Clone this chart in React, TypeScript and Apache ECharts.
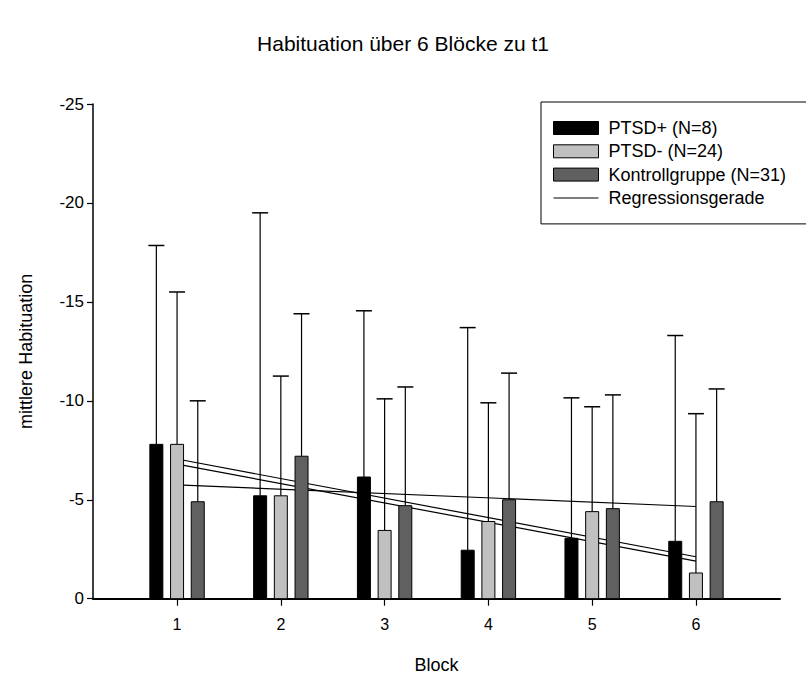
import React, { useEffect, useRef } from "react";
import * as echarts from "echarts";

const blocks = [1, 2, 3, 4, 5, 6];
const ptsdPlusMean = [-7.8, -5.2, -6.15, -2.45, -3.05, -2.9];
const ptsdPlusErr = [-17.85, -19.5, -14.55, -13.7, -10.15, -13.3];
const ptsdMinusMean = [-7.8, -5.2, -3.45, -3.9, -4.4, -1.3];
const ptsdMinusErr = [-15.5, -11.25, -10.1, -9.9, -9.7, -9.35];
const kontrollMean = [-4.9, -7.2, -4.7, -5.0, -4.55, -4.9];
const kontrollErr = [-10.0, -14.4, -10.7, -11.4, -10.3, -10.6];

const regX = [1, 6];
const regPlus = [-7.06, -2.12];
const regMinus = [-6.8, -1.9];
const regKontroll = [-5.75, -4.66];

const yTicks = [-25, -20, -15, -10, -5, 0];

const FONT = "'Liberation Sans', Arial, Helvetica, sans-serif";

function makeBarSeries(name: string, means: number[], errs: number[], color: string, offset: number) {
  const data = blocks.map((b, i) => [b, means[i], errs[i]]);
  return {
    name,
    type: "custom",
    z: 5,
    itemStyle: { color },
    encode: { x: 0, y: 1 },
    data,
    renderItem: (params: any, api: any) => {
      const x = api.value(0);
      const v = api.value(1);
      const e = api.value(2);
      const base = api.coord([x, 0]);
      const top = api.coord([x, v]);
      const et = api.coord([x, e]);
      const cx = base[0] + offset;
      return {
        type: "group",
        children: [
          {
            type: "line",
            shape: { x1: cx, y1: top[1], x2: cx, y2: et[1] },
            style: { stroke: "#000", lineWidth: 1.2 },
          },
          {
            type: "line",
            shape: { x1: cx - 8, y1: et[1], x2: cx + 8, y2: et[1] },
            style: { stroke: "#000", lineWidth: 1.5 },
          },
          {
            type: "rect",
            shape: { x: cx - 6.5, y: top[1], width: 13, height: base[1] - top[1] },
            style: { fill: color, stroke: "#000", lineWidth: 1 },
          },
        ],
      };
    },
  };
}

function regSeries(id: string, vals: number[]) {
  return {
    name: id,
    type: "line",
    z: 1,
    symbol: "none",
    silent: true,
    lineStyle: { color: "#000", width: 1.2 },
    itemStyle: { color: "#000" },
    data: regX.map((x, i) => [x, vals[i]]),
  };
}

export default function App() {
  const ref = useRef<HTMLDivElement>(null);
  useEffect(() => {
    if (!ref.current) return;
    const chart = echarts.init(ref.current, undefined, { renderer: "svg" });
    chart.setOption({
      animation: false,
      backgroundColor: "#fff",
      textStyle: { fontFamily: FONT },
      title: {
        text: "Habituation über 6 Blöcke zu t1",
        left: "center",
        top: 33,
        padding: 0,
        textStyle: { fontFamily: FONT, fontSize: 21, fontWeight: "normal", color: "#000" },
      },
      legend: {
        orient: "vertical",
        left: 541,
        top: 102,
        padding: [17, 24, 17, 12],
        borderColor: "#000",
        borderWidth: 1,
        itemWidth: 45,
        itemHeight: 13,
        itemGap: 5.3,
        textStyle: { fontFamily: FONT, fontSize: 18, lineHeight: 18, color: "#000", padding: [0, 0, 0, 5] },
        data: [
          { name: "PTSD+ (N=8)", icon: "rect", itemStyle: { borderColor: "#000", borderWidth: 1 } },
          { name: "PTSD- (N=24)", icon: "rect", itemStyle: { borderColor: "#000", borderWidth: 1 } },
          { name: "Kontrollgruppe (N=31)", icon: "rect", itemStyle: { borderColor: "#000", borderWidth: 1 } },
          { name: "Regressionsgerade", icon: "path://M0,0 H60 V1.4 H0 Z", itemStyle: { borderWidth: 0 } },
        ],
      },
      grid: { left: 93, right: 26, top: 104, bottom: 83.3, containLabel: false },
      xAxis: {
        type: "value",
        min: 0.19,
        max: 6.81,
        name: "Block",
        nameLocation: "middle",
        nameGap: 57,
        nameTextStyle: { fontFamily: FONT, fontSize: 18, color: "#000" },
        axisLine: { onZero: false, lineStyle: { color: "#000", width: 2 } },
        axisTick: { show: true, inside: false, length: 7, customValues: blocks, lineStyle: { color: "#000", width: 1.2 } },
        axisLabel: { customValues: blocks, margin: 18, fontFamily: FONT, fontSize: 16, color: "#000" },
        splitLine: { show: false },
      },
      yAxis: {
        type: "value",
        inverse: true,
        min: -25,
        max: 0,
        interval: 5,
        name: "mittlere Habituation",
        nameLocation: "middle",
        nameGap: 58,
        nameRotate: 90,
        nameTextStyle: { fontFamily: FONT, fontSize: 18, color: "#000" },
        axisLine: { show: true, onZero: false, lineStyle: { color: "#000", width: 1.5 } },
        axisTick: { show: true, inside: false, length: 6, customValues: yTicks, lineStyle: { color: "#000", width: 1.2 } },
        axisLabel: { customValues: yTicks, margin: 9, fontFamily: FONT, fontSize: 17, color: "#000" },
        splitLine: { show: false },
      },
      series: [
        regSeries("reg1", regPlus),
        regSeries("reg2", regMinus),
        regSeries("reg3", regKontroll),
        makeBarSeries("PTSD+ (N=8)", ptsdPlusMean, ptsdPlusErr, "#000000", -20.7),
        makeBarSeries("PTSD- (N=24)", ptsdMinusMean, ptsdMinusErr, "#c0c0c0", 0),
        makeBarSeries("Kontrollgruppe (N=31)", kontrollMean, kontrollErr, "#606060", 20.7),
        {
          name: "Regressionsgerade",
          type: "custom",
          itemStyle: { color: "#000" },
          data: [],
          renderItem: () => ({ type: "group", children: [] }),
        },
      ],
    });
    return () => chart.dispose();
  }, []);
  return (
    <div
      ref={ref}
      style={{ position: "fixed", left: 0, top: 0, width: 806, height: 682, background: "#fff" }}
    />
  );
}
